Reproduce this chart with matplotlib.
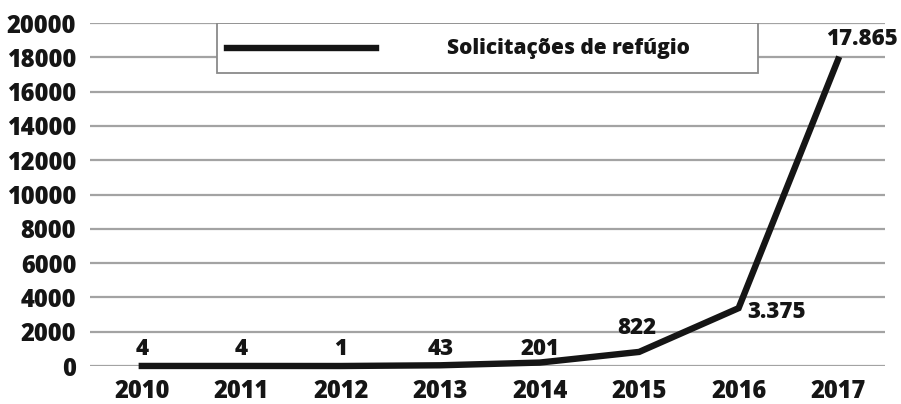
import matplotlib.pyplot as plt
from matplotlib.patches import Rectangle
from matplotlib.lines import Line2D

plt.rcParams['font.family'] = ['Open Sans', 'DejaVu Sans']

years = ['2010', '2011', '2012', '2013', '2014', '2015', '2016', '2017']
requests = [4, 4, 1, 43, 201, 822, 3375, 17865]
labels = ['4', '4', '1', '43', '201', '822', '3.375', '17.865']
series_name = 'Solicitações de refúgio'

ink = '#151515'
weight = 'heavy'

fig = plt.figure(figsize=(9.01, 4.04), dpi=100)
ax = fig.add_axes([0.1, 0.094, 0.882, 0.849])

x = list(range(len(years)))
ax.plot(x, requests, color=ink, lw=4.6, solid_joinstyle='miter', zorder=3, clip_on=False)

# data labels, nudged like the original
offsets = {4: (0, 10), 5: (-2, 17), 6: (6, -3), 7: (17, 15)}
for i, (v, t) in enumerate(zip(requests, labels)):
    dx, dy = offsets.get(i, (0, 12))
    ha = 'left' if i == 6 else 'center'
    ax.annotate(t, (i, v), xytext=(dx, dy), textcoords='offset points',
                ha=ha, va='center', fontsize=16, fontweight=weight, color=ink)

ax.set_xlim(-0.52, 7.47)
ax.set_ylim(0, 20000)
ax.set_yticks(range(0, 20001, 2000))
ax.set_xticks(x)
ax.set_xticklabels(years)
ax.yaxis.grid(True, color='#a3a3a3', lw=1.6)
ax.set_axisbelow(True)
for s in ax.spines.values():
    s.set_visible(False)
ax.tick_params(length=0, labelsize=17, labelcolor=ink)
ax.tick_params(axis='y', pad=10)
ax.tick_params(axis='x', pad=9)
for lab in ax.get_xticklabels() + ax.get_yticklabels():
    lab.set_fontweight(weight)

# legend box drawn by hand
box = Rectangle((0.16, 0.854), 0.681, 0.146, transform=ax.transAxes,
                facecolor='white', edgecolor='#8a8a8a', lw=1.3, zorder=4)
ax.add_patch(box)
ax.add_line(Line2D([0.1723, 0.3597], [0.927, 0.927], transform=ax.transAxes,
                   color=ink, lw=4.6, zorder=5))
ax.text(0.449, 0.925, series_name, transform=ax.transAxes, ha='left', va='center',
        fontsize=15, fontweight=weight, color=ink, zorder=5)

fig.savefig('out.png', dpi=100)
